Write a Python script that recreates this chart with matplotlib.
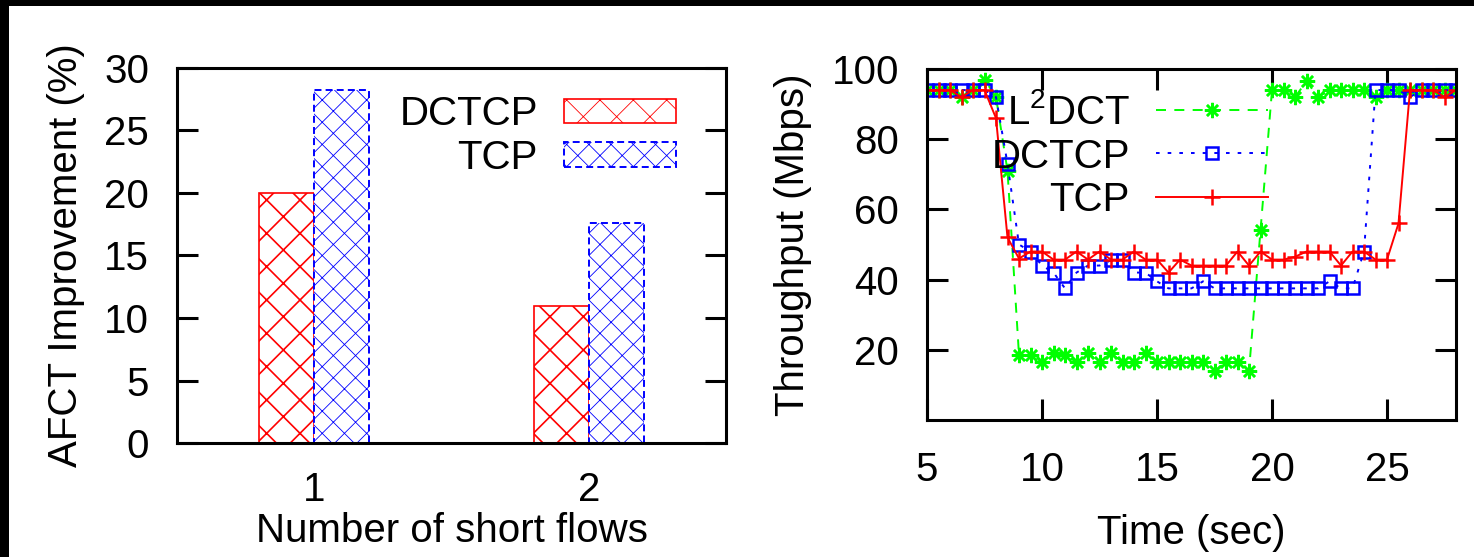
import numpy as np
import matplotlib.pyplot as plt
from matplotlib.patches import Rectangle

plt.rcParams['font.family'] = ['Liberation Sans', 'DejaVu Sans']
plt.rcParams['mathtext.fontset'] = 'custom'
plt.rcParams['mathtext.rm'] = 'Liberation Sans'
plt.rcParams['lines.scale_dashes'] = False

# left panel: AFCT improvement vs number of short flows
groups = [1, 2]
group_labels = ['1', '2']
afct_dctcp = [20.0, 11.0]
afct_tcp = [28.2, 17.6]

# right panel: throughput over time
time = [5.0, 5.5, 6.0, 6.5, 7.0, 7.5, 8.0, 8.5, 9.0, 9.5,
        10.0, 10.5, 11.0, 11.5, 12.0, 12.5, 13.0, 13.5, 14.0, 14.5,
        15.0, 15.5, 16.0, 16.5, 17.0, 17.5, 18.0, 18.5, 19.0, 19.5,
        20.0, 20.5, 21.0, 21.5, 22.0, 22.5, 23.0, 23.5, 24.0, 24.5,
        25.0, 25.5, 26.0, 26.5, 27.0, 27.5, 28.0]
thr_l2dct = [94, 94, 94, 92, 94, 97, 92, 71, 18.5, 18.5,
             16.5, 19, 18.5, 16.5, 19, 16.5, 19, 16.5, 16.5, 19,
             16.5, 16.5, 16.5, 16.5, 16.5, 14, 16.5, 16.5, 14, 54,
             94, 94, 92, 96.5, 92, 94, 94, 94, 94, 92,
             94, 94, 94, 94, 94, 94, 94]
thr_dctcp = [94, 94, 94, 94, 94, 94, 92, 73, 50, 48,
             44, 42, 37.5, 42, 44, 44, 45.5, 45.5, 42, 42,
             39.5, 37.5, 37.5, 37.5, 39.5, 37.5, 37.5, 37.5, 37.5, 37.5,
             37.5, 37.5, 37.5, 37.5, 37.5, 39.5, 37.5, 37.5, 48, 94,
             94, 94, 92, 94, 94, 94, 94]
thr_tcp = [94, 94, 94, 92, 94, 94, 86, 52, 46, 48,
           48, 45.7, 45.7, 48, 45.7, 48, 45.7, 45.7, 48, 45.7,
           45.7, 42, 45.7, 44, 44, 44, 44, 48, 44, 48,
           45.7, 45.7, 46.5, 48, 48, 48, 44, 48, 48, 45.7,
           45.7, 56, 94, 94, 94, 92, 94]

fs = 14.5
W, H = 1474, 557
fig = plt.figure(figsize=(W / 200, H / 200), dpi=200)

# black strips along the top and left edges of the scan
fig.add_artist(Rectangle((0, 1 - 6 / H), 1, 6 / H, transform=fig.transFigure,
                         facecolor='black', edgecolor='none'))
fig.add_artist(Rectangle((0, 0), 9 / W, 1, transform=fig.transFigure,
                         facecolor='black', edgecolor='none'))

# ---- left panel ----
ax1 = fig.add_axes([177 / W, 1 - 443 / H, (726 - 177) / W, (443 - 68) / H])
x = np.array(groups)
plt.rcParams['hatch.linewidth'] = 0.6
ax1.bar(x - 0.1, afct_dctcp, 0.2, facecolor='white', edgecolor='#ff0000',
        hatch='xx', linewidth=0.6, label='DCTCP')
plt.rcParams['hatch.linewidth'] = 0.3
ax1.bar(x + 0.1, afct_tcp, 0.2, facecolor='white', edgecolor='#0000ff',
        hatch='xxx', linewidth=0.7, linestyle=(0, (2.5, 1.5)), label='TCP')
ax1.set_xlim(0.5, 2.5)
ax1.set_ylim(0, 30)
ax1.set_yticks([0, 5, 10, 15, 20, 25, 30])
ax1.set_xticks(groups)
ax1.set_xticklabels(group_labels)
ax1.tick_params(axis='y', direction='in', length=7.5, width=1.1, right=True,
                labelsize=fs, pad=10)
ax1.tick_params(axis='x', length=0, labelsize=fs, pad=10)
ax1.set_xlabel('Number of short flows', fontsize=fs, labelpad=1)
ax1.set_ylabel('AFCT Improvement (%)', fontsize=fs, labelpad=7)
for s in ax1.spines.values():
    s.set_linewidth(1.1)
ax1.legend(loc='upper right', bbox_to_anchor=(0.909, 0.928), frameon=False,
           markerfirst=False, fontsize=fs, handlelength=2.78, handleheight=0.55,
           handletextpad=0.65, borderpad=0, borderaxespad=0, labelspacing=0.14)

# ---- right panel ----
ax2 = fig.add_axes([927 / W, 1 - 420 / H, (1456 - 927) / W, (420 - 69) / H])
ax2.plot(time, thr_l2dct, color='#00ff00', linestyle=(0, (3.6, 3.0)), lw=0.7,
         marker=(8, 2, 0), ms=5.5, mew=0.9, label='L$^2$DCT')
ax2.plot(time, thr_dctcp, color='#0000ff', linestyle=(0, (1.3, 2.9)), lw=0.7,
         marker='s', ms=4.0, mfc='none', mew=0.9, label='DCTCP')
ax2.plot(time, thr_tcp, color='#ff0000', lw=0.7, marker='+', ms=5.5, mew=0.9,
         label='TCP')
ax2.set_xlim(5, 28)
ax2.set_ylim(0, 100)
ax2.set_xticks([5, 10, 15, 20, 25])
ax2.set_yticks([20, 40, 60, 80, 100])
ax2.tick_params(direction='in', length=7.5, width=1.1, top=True, right=True,
                labelsize=fs)
ax2.tick_params(axis='x', pad=11)
ax2.tick_params(axis='y', pad=10)
ax2.set_xlabel('Time (sec)', fontsize=fs, labelpad=9)
ax2.set_ylabel('Throughput (Mbps)', fontsize=fs, labelpad=7)
for s in ax2.spines.values():
    s.set_linewidth(1.1)
ax2.legend(loc='upper right', bbox_to_anchor=(0.6446, 0.932), frameon=False,
           markerfirst=False, fontsize=fs, handlelength=2.78,
           handletextpad=0.65, borderpad=0, borderaxespad=0, labelspacing=0.14)

fig.savefig('out.png', dpi=200)
